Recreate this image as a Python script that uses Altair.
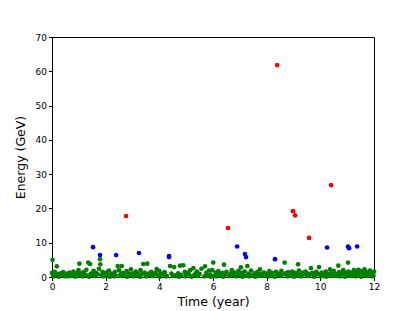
import altair as alt
import pandas as pd

# green (low energy) events
green_t = [0.0, 0.02, 0.05, 0.1, 0.15, 0.18, 0.22, 0.28, 0.33, 0.38, 0.42, 0.47, 0.52, 0.56, 0.61, 0.66, 0.7, 0.75, 0.8, 0.84, 0.9, 0.95, 0.99,
           1.03, 1.08, 1.02, 1.12, 1.18, 1.22, 1.28, 1.33, 1.35, 1.42, 1.45, 1.5, 1.55, 1.6, 1.65, 1.7, 1.75, 1.79, 1.8, 1.84, 1.88, 1.93, 1.97,
           2.02, 2.06, 2.12, 2.18, 2.22, 2.3, 2.45, 2.6, 2.35, 2.4, 2.5, 2.55, 2.65, 2.7, 2.78, 2.83, 2.88, 2.94, 2.98,
           3.03, 3.08, 3.12, 3.16, 3.2, 3.4, 3.55, 3.25, 3.3, 3.35, 3.45, 3.5, 3.6, 3.65, 3.7, 3.75, 3.9, 3.8, 3.85, 3.95,
           4.0, 4.05, 4.1, 4.15, 4.2, 4.28, 4.4, 4.45, 4.55, 4.6, 4.77, 4.89, 4.7, 4.82, 4.95,
           5.0, 5.05, 5.1, 5.15, 5.27, 5.3, 5.35, 5.4, 5.45, 5.5, 5.57, 5.7, 5.75, 5.8, 5.85, 5.9, 5.97,
           6.01, 6.05, 6.1, 6.15, 6.2, 6.25, 6.41, 6.3, 6.35, 6.45, 6.5, 6.6, 6.65, 6.7, 6.75, 6.8, 6.85, 6.9, 6.95,
           7.04, 7.28, 7.0, 7.08, 7.12, 7.18, 7.22, 7.32, 7.38, 7.42, 7.48, 7.55, 7.6, 7.65, 7.7, 7.75, 7.8, 7.85, 7.9, 7.95,
           8.0, 8.05, 8.1, 8.15, 8.2, 8.25, 8.35, 8.4, 8.45, 8.5, 8.55, 8.6, 8.67, 8.7, 8.75, 8.8, 8.85, 8.9, 8.95, 9.17,
           9.0, 9.05, 9.1, 9.15, 9.2, 9.25, 9.3, 9.35, 9.4, 9.45, 9.5, 9.55, 9.65, 9.6, 9.7, 9.75, 9.8, 9.85, 9.95, 9.9,
           10.0, 10.05, 10.1, 10.15, 10.2, 10.25, 10.36, 10.3, 10.4, 10.45, 10.5, 10.55, 10.67, 10.6, 10.7, 10.75, 10.8, 10.85, 10.9, 10.95, 11.03,
           11.0, 11.05, 11.1, 11.15, 11.2, 11.25, 11.3, 11.35, 11.4, 11.45, 11.5, 11.55, 11.6, 11.65, 11.7, 11.75, 11.8, 11.85, 11.9, 11.95, 12.0,
           0.07, 0.25, 0.45, 0.63, 0.87, 1.15, 1.38, 1.62, 1.9, 2.15, 2.33, 2.58, 2.8, 3.05, 3.28, 3.52, 3.77, 4.02, 4.25, 4.5, 4.73, 4.98,
           5.2, 5.43, 5.68, 5.92, 6.12, 6.38, 6.62, 6.88, 7.1, 7.35, 7.58, 7.82, 8.08, 8.3, 8.52, 8.78, 9.02, 9.27, 9.52, 9.78,
           10.02, 10.22, 10.48, 10.72, 10.92, 11.12, 11.32, 11.52, 11.72, 11.92, 11.08, 11.28, 11.48, 11.68, 11.88, 11.98, 11.62, 11.42]
green_e = [1.2, 5.0, 0.4, 1.5, 0.6, 3.1, 0.9, 0.3, 1.1, 0.5, 1.4, 0.7, 0.2, 1.0, 0.6, 1.3, 0.4, 0.9, 1.6, 0.3, 0.8, 1.2, 2.0,
           0.5, 1.1, 3.9, 0.3, 1.4, 0.7, 2.1, 0.4, 4.2, 3.8, 1.0, 0.6, 1.8, 0.3, 1.2, 0.8, 2.4, 5.2, 3.7, 0.5, 1.5, 0.9, 0.3,
           1.3, 0.6, 1.9, 0.4, 1.0, 0.7, 3.2, 3.2, 1.5, 0.3, 2.0, 0.8, 1.2, 0.5, 1.7, 0.4, 0.9, 2.2, 0.6,
           1.1, 0.3, 1.6, 0.7, 1.0, 3.8, 3.9, 0.5, 2.0, 0.8, 1.3, 0.4, 1.0, 0.6, 1.5, 0.3, 2.3, 0.9, 1.2, 0.5,
           1.8, 0.4, 1.0, 0.7, 1.4, 0.3, 3.2, 1.0, 2.9, 0.5, 3.3, 3.4, 1.1, 0.6, 1.5,
           0.4, 1.2, 0.8, 2.0, 2.6, 0.5, 1.0, 1.6, 0.3, 0.9, 2.4, 3.1, 1.2, 0.4, 1.9, 0.7, 2.0,
           4.2, 0.3, 1.3, 0.6, 1.7, 0.9, 3.6, 0.4, 1.2, 0.7, 1.5, 0.3, 1.0, 2.0, 0.6, 1.3, 0.4, 0.9, 1.8,
           2.8, 3.2, 0.5, 1.2, 0.7, 1.6, 0.3, 1.0, 0.6, 1.9, 0.4, 1.1, 0.8, 1.4, 0.3, 2.2, 0.9, 0.5, 1.3, 0.7,
           1.0, 0.4, 1.7, 0.8, 1.2, 0.3, 1.5, 0.6, 1.0, 0.4, 1.8, 0.7, 4.2, 1.1, 0.5, 1.4, 0.3, 0.9, 1.6, 3.7,
           0.6, 1.2, 0.4, 1.0, 1.9, 0.7, 0.3, 1.3, 0.8, 1.6, 0.5, 1.0, 2.6, 0.4, 1.2, 0.7, 0.3, 1.5, 2.9, 0.9,
           0.5, 1.3, 0.8, 0.3, 1.6, 1.0, 2.2, 0.4, 1.1, 0.6, 1.8, 0.3, 3.3, 0.9, 1.4, 0.5, 1.0, 2.0, 0.7, 1.3, 4.2,
           0.4, 1.6, 0.9, 1.2, 0.5, 2.0, 0.8, 1.4, 0.3, 1.1, 1.7, 0.6, 1.0, 2.2, 0.4, 1.3, 0.8, 1.9, 0.5, 1.2, 1.6,
           0.2, 0.1, 0.3, 0.2, 0.1, 0.2, 0.1, 0.3, 0.2, 0.1, 0.2, 0.3, 0.1, 0.2, 0.1, 0.2, 0.3, 0.1, 0.2, 0.3, 0.1, 0.2,
           0.1, 0.3, 0.2, 0.1, 0.2, 0.1, 0.3, 0.2, 0.1, 0.2, 0.1, 0.3, 0.2, 0.1, 0.3, 0.2, 0.1, 0.2, 0.3, 0.1,
           0.2, 0.1, 0.3, 0.2, 0.1, 0.3, 0.2, 0.1, 0.3, 0.2, 0.7, 1.0, 0.6, 1.5, 0.9, 0.4, 1.8, 2.1]

# blue (medium energy) events
blue_t = [1.53, 1.79, 2.39, 3.24, 4.36, 4.36, 6.9, 7.19, 7.23, 8.31, 10.25, 11.03, 11.07, 11.37]
blue_e = [8.7, 6.4, 6.4, 7.0, 6.1, 5.8, 8.9, 6.7, 5.8, 5.2, 8.6, 8.9, 8.4, 8.9]

# red (high energy) events
red_t = [2.76, 6.56, 8.39, 8.98, 9.06, 9.58, 10.4]
red_e = [17.8, 14.3, 61.8, 19.2, 18.0, 11.4, 26.8]

df = pd.DataFrame({
    "t": green_t + blue_t + red_t,
    "e": green_e + blue_e + red_e,
    "c": ["green"] * len(green_t) + ["blue"] * len(blue_t) + ["red"] * len(red_t),
})

font = "DejaVu Sans"

chart = alt.Chart(df).mark_circle(size=22, opacity=1).encode(
    x=alt.X("t:Q", scale=alt.Scale(domain=[0, 12], nice=False, zero=False),
            axis=alt.Axis(title="Time (year)", values=[0, 2, 4, 6, 8, 10, 12], format="d",
                          grid=False, tickSize=3.5, tickColor="black", domainColor="black",
                          labelFlush=False,
                          labelFont=font, labelFontSize=9, labelColor="black", labelPadding=2,
                          titleFont=font, titleFontSize=12.5, titleFontWeight="normal",
                          titleColor="black", titlePadding=4)),
    y=alt.Y("e:Q", scale=alt.Scale(domain=[0, 70], nice=False),
            axis=alt.Axis(title="Energy (GeV)", values=[0, 10, 20, 30, 40, 50, 60, 70], format="d",
                          grid=False, tickSize=3.5, tickColor="black", domainColor="black",
                          labelFlush=False,
                          labelFont=font, labelFontSize=9, labelColor="black", labelPadding=2,
                          titleFont=font, titleFontSize=12.5, titleFontWeight="normal",
                          titleColor="black", titlePadding=8)),
    color=alt.Color("c:N", scale=alt.Scale(domain=["green", "blue", "red"],
                                           range=["#008000", "#0000ff", "#ff0000"]),
                    legend=None),
    order=alt.Order("c:N"),
).properties(
    width=322, height=240,
    background="white",
    autosize=alt.AutoSizeParams(type="none"),
    padding={"left": 44, "top": 29, "right": 33, "bottom": 34},
).configure_view(stroke="black", strokeWidth=1, strokeOpacity=1)

chart.save("out.html", embed_options={"renderer": "svg", "actions": False})
